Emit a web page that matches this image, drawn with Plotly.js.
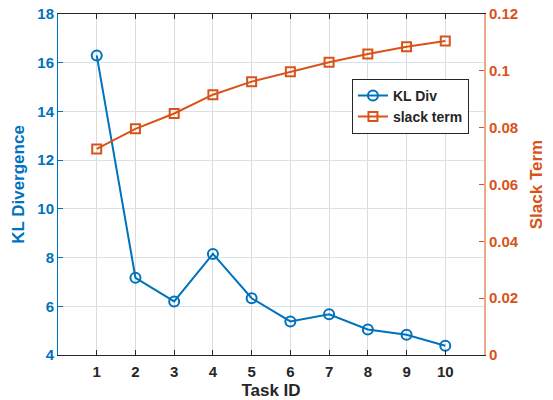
<!DOCTYPE html>
<html><head><meta charset="utf-8">
<script src="https://cdn.plot.ly/plotly-3.0.1.min.js"></script>
<style>html,body{margin:0;padding:0;background:#fff}#chart{width:553px;height:400px}</style>
</head><body><div id="chart"></div>
<script>
const taskIds = [1,2,3,4,5,6,7,8,9,10];
const klDiv = [16.3,7.17,6.2,8.15,6.33,5.38,5.67,5.05,4.83,4.38];
const slackTerm = [0.0725,0.0796,0.0850,0.0916,0.0962,0.0997,0.1030,0.1059,0.1085,0.1105];
const xTicks = [1,2,3,4,5,6,7,8,9,10];
const yTicks = [4,6,8,10,12,14,16,18];
const y2Ticks = [0,0.02,0.04,0.06,0.08,0.1,0.12];
const y2TickText = ['0','0.02','0.04','0.06','0.08','0.1','0.12'];

const blue = '#0072BD', orange = '#D95319', dark = '#262626';
const fnt = 'Liberation Sans, Arial, sans-serif';

const traces = [
  {x: taskIds, y: klDiv, name: 'KL Div', type: 'scatter', mode: 'lines+markers',
   line: {color: blue, width: 2}, marker: {symbol: 'circle-open', size: 10, color: blue, line: {width: 2, color: blue}}},
  {x: taskIds, y: slackTerm, name: 'slack term', type: 'scatter', mode: 'lines+markers', yaxis: 'y2',
   line: {color: orange, width: 2}, marker: {symbol: 'square-open', size: 9, color: orange, line: {width: 2, color: orange}}}
];

const layout = {
  width: 553, height: 400,
  margin: {l: 58, r: 69, t: 14, b: 45},
  paper_bgcolor: '#fff', plot_bgcolor: '#fff',
  showlegend: true,
  legend: {x: 0.69, y: 0.81, xanchor: 'left', yanchor: 'top', bgcolor: '#fff', bordercolor: dark, borderwidth: 1,
           font: {family: fnt, size: 14, color: dark, weight: 'bold'}, tracegroupgap: 0, itemwidth: 30},
  xaxis: {range: [0, 11], tickvals: xTicks, ticks: 'inside', ticklen: 5, tickcolor: dark,
          showline: true, linecolor: dark, linewidth: 1, mirror: 'ticks',
          showgrid: true, gridcolor: '#dcdcdc', gridwidth: 1, zeroline: false,
          tickfont: {family: fnt, size: 15, color: dark, weight: 'bold'}, ticklabelstandoff: 3,
          title: {text: 'Task ID', font: {family: fnt, size: 17, color: dark, weight: 'bold'}, standoff: 6}},
  yaxis: {range: [4, 18], tickvals: yTicks, ticks: 'inside', ticklen: 5, tickcolor: blue,
          showline: true, linecolor: blue, linewidth: 1,
          showgrid: true, gridcolor: '#d6e2ee', gridwidth: 1, zeroline: false,
          tickfont: {family: fnt, size: 15, color: blue, weight: 'bold'},
          title: {text: 'KL Divergence', font: {family: fnt, size: 17, color: blue, weight: 'bold'}, standoff: 8}},
  yaxis2: {overlaying: 'y', side: 'right', range: [0, 0.12], tickvals: y2Ticks, ticktext: y2TickText,
           ticks: 'inside', ticklen: 5, tickcolor: orange,
           showline: true, linecolor: '#eaa88c', linewidth: 2, showgrid: false, zeroline: false,
           tickfont: {family: fnt, size: 15, color: orange, weight: 'bold'},
           title: {text: 'Slack Term', font: {family: fnt, size: 17, color: orange, weight: 'bold'}, standoff: 12}}
};

Plotly.newPlot('chart', traces, layout, {displayModeBar: false, staticPlot: true});
</script></body></html>
